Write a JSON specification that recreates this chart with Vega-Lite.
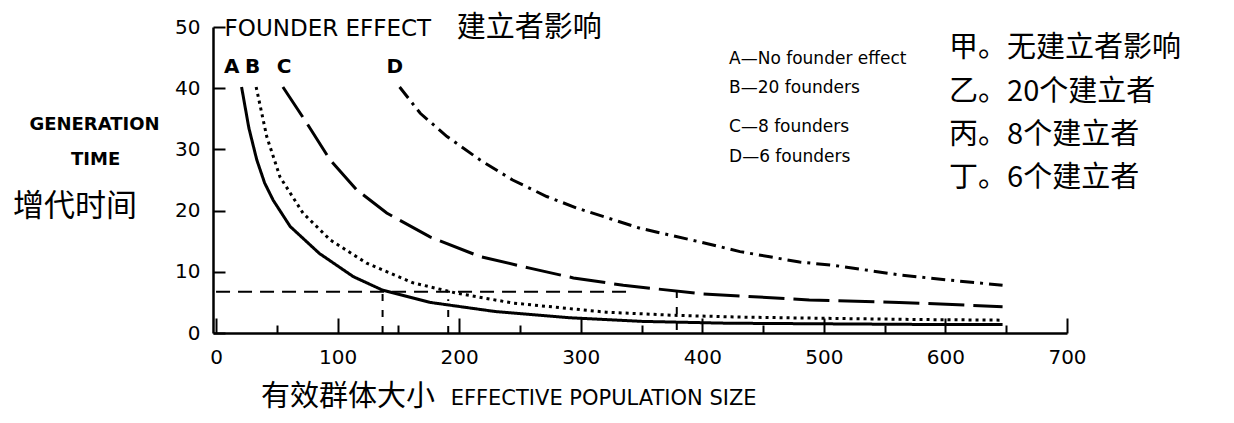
{
  "$schema": "https://vega.github.io/schema/vega-lite/v6.json",
  "width": 854,
  "height": 306,
  "autosize": {"type": "none"},
  "padding": {"left": 213, "top": 27, "right": 167, "bottom": 90},
  "background": "white",
  "config": {"view": {"stroke": null}, "axis": {"grid": false}},
  "datasets": {
    "curves": [
      {"series": "A", "N": 21, "G": 40.2}, {"series": "A", "N": 27, "G": 33.5}, {"series": "A", "N": 33.5, "G": 28.3},
      {"series": "A", "N": 40, "G": 24.5}, {"series": "A", "N": 47, "G": 21.7}, {"series": "A", "N": 61, "G": 17.4},
      {"series": "A", "N": 85, "G": 13.0}, {"series": "A", "N": 113, "G": 9.2}, {"series": "A", "N": 137, "G": 7.0},
      {"series": "A", "N": 176, "G": 5.0}, {"series": "A", "N": 230, "G": 3.5}, {"series": "A", "N": 290, "G": 2.5},
      {"series": "A", "N": 350, "G": 1.9}, {"series": "A", "N": 420, "G": 1.6}, {"series": "A", "N": 500, "G": 1.5},
      {"series": "A", "N": 580, "G": 1.4}, {"series": "A", "N": 647, "G": 1.4},
      {"series": "B", "N": 33, "G": 40.2}, {"series": "B", "N": 41.7, "G": 32.1}, {"series": "B", "N": 52.6, "G": 25.5},
      {"series": "B", "N": 71.5, "G": 19.6}, {"series": "B", "N": 94, "G": 15.2}, {"series": "B", "N": 124, "G": 11.4},
      {"series": "B", "N": 162, "G": 8.2}, {"series": "B", "N": 198, "G": 6.5}, {"series": "B", "N": 244, "G": 4.9},
      {"series": "B", "N": 285, "G": 4.1}, {"series": "B", "N": 321, "G": 3.4}, {"series": "B", "N": 376, "G": 2.9},
      {"series": "B", "N": 430, "G": 2.6}, {"series": "B", "N": 500, "G": 2.4}, {"series": "B", "N": 580, "G": 2.2},
      {"series": "B", "N": 647, "G": 2.1},
      {"series": "C", "N": 55, "G": 40.2}, {"series": "C", "N": 74.6, "G": 34.3}, {"series": "C", "N": 93.8, "G": 28.3},
      {"series": "C", "N": 115.7, "G": 23.4}, {"series": "C", "N": 140.4, "G": 19.6}, {"series": "C", "N": 176, "G": 15.7},
      {"series": "C", "N": 217, "G": 12.5}, {"series": "C", "N": 258, "G": 10.6}, {"series": "C", "N": 294, "G": 9.0},
      {"series": "C", "N": 335, "G": 7.8}, {"series": "C", "N": 400, "G": 6.4}, {"series": "C", "N": 488, "G": 5.4},
      {"series": "C", "N": 562, "G": 5.0}, {"series": "C", "N": 647, "G": 4.3},
      {"series": "D", "N": 151, "G": 40.2}, {"series": "D", "N": 168, "G": 35.9}, {"series": "D", "N": 190, "G": 32.1},
      {"series": "D", "N": 217, "G": 28.3}, {"series": "D", "N": 244, "G": 25.0}, {"series": "D", "N": 272, "G": 22.3},
      {"series": "D", "N": 297, "G": 20.4}, {"series": "D", "N": 349, "G": 17.1}, {"series": "D", "N": 400, "G": 14.8},
      {"series": "D", "N": 431, "G": 13.3}, {"series": "D", "N": 480, "G": 11.6}, {"series": "D", "N": 510, "G": 11.0},
      {"series": "D", "N": 562, "G": 9.5}, {"series": "D", "N": 600, "G": 8.7}, {"series": "D", "N": 647, "G": 7.8}
    ],
    "hline": [{"x": 0, "x2": 340, "y": 6.75}],
    "vlines": [
      {"x": 137, "y": 0, "y2": 6.75},
      {"x": 191, "y": 0, "y2": 5.5},
      {"x": 379, "y": 0.5, "y2": 6.7}
    ],
    "heading": [{"t": "FOUNDER EFFECT", "x": 7, "y": 49.7}],
    "headingCn": [{"t": "建立者影响", "x": 198, "y": 49.8}],
    "curveLetters": [
      {"t": "A", "x": 13, "y": 43.5}, {"t": "B", "x": 30, "y": 43.5},
      {"t": "C", "x": 56, "y": 43.5}, {"t": "D", "x": 147, "y": 43.5}
    ],
    "legendEn": [
      {"t": "A—No founder effect", "x": 422, "y": 44.8},
      {"t": "B—20 founders", "x": 422, "y": 40.0},
      {"t": "C—8 founders", "x": 422, "y": 33.7},
      {"t": "D—6 founders", "x": 422, "y": 28.8}
    ],
    "legendCn": [
      {"t": "甲。无建立者影响", "x": 603, "y": 46.57},
      {"t": "乙。20个建立者", "x": 603, "y": 39.38},
      {"t": "丙。8个建立者", "x": 603, "y": 32.35},
      {"t": "丁。6个建立者", "x": 603, "y": 25.33}
    ],
    "yTitleEn": [{"t": "GENERATION", "x": -100, "y": 34.0}, {"t": "TIME", "x": -99, "y": 28.3}],
    "yTitleCn": [{"t": "增代时间", "x": -116, "y": 20.6}],
    "xTitleCn": [{"t": "有效群体大小", "x": 37, "y": -10.5}],
    "xTitleEn": [{"t": "EFFECTIVE POPULATION SIZE", "x": 193, "y": -10.8}]
  },
  "resolve": {"axis": {"x": "independent", "y": "independent"}},
  "layer": [
    {
      "data": {"name": "curves"},
      "mark": {"type": "line", "color": "black", "strokeWidth": 3, "strokeCap": "butt"},
      "encoding": {
        "x": {"field": "N", "type": "quantitative", "scale": {"domain": [-2.5, 700], "nice": false, "zero": false},
          "axis": {"orient": "bottom", "values": [0, 100, 200, 300, 400, 500, 600, 700], "title": null,
            "domainColor": "black", "domainWidth": 2.5, "tickColor": "black", "tickWidth": 2, "tickSize": -15,
            "labelPadding": 29, "labelFont": "DejaVu Sans", "labelFontSize": 20, "labelColor": "black", "labelFlush": false}},
        "y": {"field": "G", "type": "quantitative", "scale": {"domain": [0, 50], "nice": false},
          "axis": {"orient": "left", "values": [0, 10, 20, 30, 40, 50], "title": null,
            "domainColor": "black", "domainWidth": 2.5, "tickColor": "black", "tickWidth": 2, "tickSize": -12,
            "labelPadding": 25, "labelFont": "DejaVu Sans", "labelFontSize": 20, "labelColor": "black", "labelFlush": false}},
        "strokeDash": {"field": "series", "type": "nominal",
          "scale": {"domain": ["A", "B", "C", "D"], "range": [[1, 0], [3, 4], [36, 9], [14, 6, 3, 6]]}, "legend": null}
      }
    },
    {
      "data": {"name": "hline"},
      "mark": {"type": "rule", "color": "black", "strokeWidth": 2, "strokeDash": [14, 8]},
      "encoding": {
        "x": {"field": "x", "type": "quantitative",
          "axis": {"orient": "bottom", "values": [50, 150, 250, 350, 450, 550, 650], "title": null, "labels": false,
            "domain": false, "tickColor": "black", "tickWidth": 2, "tickSize": -8}},
        "x2": {"field": "x2"},
        "y": {"field": "y", "type": "quantitative", "axis": null}
      }
    },
    {
      "data": {"name": "vlines"},
      "mark": {"type": "rule", "color": "black", "strokeWidth": 2, "strokeDash": [7, 9]},
      "encoding": {
        "x": {"field": "x", "type": "quantitative", "axis": null},
        "y": {"field": "y", "type": "quantitative", "axis": null},
        "y2": {"field": "y2"}
      }
    },
    {
      "data": {"name": "heading"},
      "mark": {"type": "text", "align": "left", "baseline": "middle", "font": "DejaVu Sans", "fontSize": 23, "color": "black"},
      "encoding": {"x": {"field": "x", "type": "quantitative", "axis": null}, "y": {"field": "y", "type": "quantitative", "axis": null}, "text": {"field": "t"}}
    },
    {
      "data": {"name": "headingCn"},
      "mark": {"type": "text", "align": "left", "baseline": "middle", "font": "Noto Sans CJK SC", "fontSize": 29, "color": "black"},
      "encoding": {"x": {"field": "x", "type": "quantitative", "axis": null}, "y": {"field": "y", "type": "quantitative", "axis": null}, "text": {"field": "t"}}
    },
    {
      "data": {"name": "curveLetters"},
      "mark": {"type": "text", "align": "center", "baseline": "middle", "font": "DejaVu Sans", "fontWeight": "bold", "fontSize": 20, "color": "black"},
      "encoding": {"x": {"field": "x", "type": "quantitative", "axis": null}, "y": {"field": "y", "type": "quantitative", "axis": null}, "text": {"field": "t"}}
    },
    {
      "data": {"name": "legendEn"},
      "mark": {"type": "text", "align": "left", "baseline": "middle", "font": "DejaVu Sans", "fontSize": 17, "color": "black"},
      "encoding": {"x": {"field": "x", "type": "quantitative", "axis": null}, "y": {"field": "y", "type": "quantitative", "axis": null}, "text": {"field": "t"}}
    },
    {
      "data": {"name": "legendCn"},
      "mark": {"type": "text", "align": "left", "baseline": "middle", "font": "Noto Sans CJK SC", "fontSize": 29, "color": "black"},
      "encoding": {"x": {"field": "x", "type": "quantitative", "axis": null}, "y": {"field": "y", "type": "quantitative", "axis": null}, "text": {"field": "t"}}
    },
    {
      "data": {"name": "yTitleEn"},
      "mark": {"type": "text", "align": "center", "baseline": "middle", "font": "DejaVu Sans", "fontWeight": "bold", "fontSize": 18, "color": "black"},
      "encoding": {"x": {"field": "x", "type": "quantitative", "axis": null}, "y": {"field": "y", "type": "quantitative", "axis": null}, "text": {"field": "t"}}
    },
    {
      "data": {"name": "yTitleCn"},
      "mark": {"type": "text", "align": "center", "baseline": "middle", "font": "Noto Sans CJK SC", "fontSize": 31, "color": "black"},
      "encoding": {"x": {"field": "x", "type": "quantitative", "axis": null}, "y": {"field": "y", "type": "quantitative", "axis": null}, "text": {"field": "t"}}
    },
    {
      "data": {"name": "xTitleCn"},
      "mark": {"type": "text", "align": "left", "baseline": "middle", "font": "Noto Sans CJK SC", "fontSize": 29, "color": "black"},
      "encoding": {"x": {"field": "x", "type": "quantitative", "axis": null}, "y": {"field": "y", "type": "quantitative", "axis": null}, "text": {"field": "t"}}
    },
    {
      "data": {"name": "xTitleEn"},
      "mark": {"type": "text", "align": "left", "baseline": "middle", "font": "DejaVu Sans", "fontSize": 21, "color": "black"},
      "encoding": {"x": {"field": "x", "type": "quantitative", "axis": null}, "y": {"field": "y", "type": "quantitative", "axis": null}, "text": {"field": "t"}}
    }
  ]
}
